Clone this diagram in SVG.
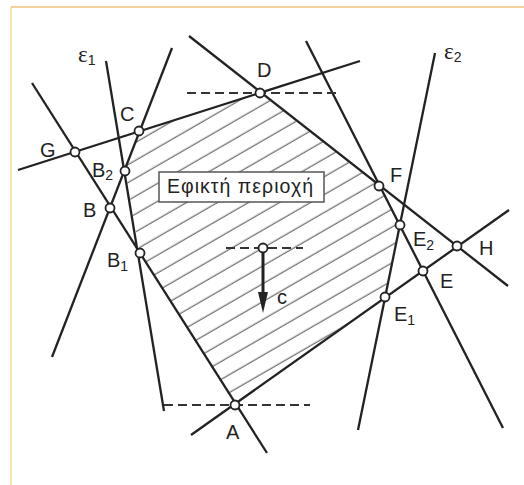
<svg xmlns="http://www.w3.org/2000/svg" width="524" height="485" viewBox="0 0 524 485">
<defs>
<style>
.ln{stroke:#222;stroke-width:2.3;fill:none;stroke-linecap:butt}
.dash{stroke:#333;stroke-width:1.8;fill:none;stroke-dasharray:9 5}
.pt{fill:#fff;stroke:#222;stroke-width:1.8}
.lb{font-family:"Liberation Sans",Arial,sans-serif;font-size:20px;fill:#222}
.sub{font-size:14px}
.eps{font-family:"Liberation Serif","Times New Roman",serif;font-size:23px;fill:#222}
</style>
<pattern id="hatch" patternUnits="userSpaceOnUse" width="60" height="15.5" patternTransform="rotate(-30)">
<line x1="0" y1="5" x2="60" y2="5" stroke="#444" stroke-width="1"/>
</pattern>
</defs>
<rect x="0" y="0" width="524" height="485" fill="#fff"/>
<line x1="11" y1="7" x2="524" y2="7" stroke="#f0c080" stroke-width="1.5"/>
<line x1="11" y1="7" x2="11" y2="485" stroke="#f3dc9a" stroke-width="1.5"/>

<g id="region">
<polygon points="139,131 260,93 379,186 400,225 385,297 235,405 140,253 125,171" fill="url(#hatch)"/>
</g>

<g id="connectors">
<line class="ln" x1="18" y1="170" x2="360" y2="61"/>
<line class="ln" x1="189" y1="36" x2="508" y2="286"/>
<line class="ln" x1="306" y1="41" x2="503" y2="428"/>
<line class="ln" x1="435" y1="53" x2="358" y2="430"/>
<line class="ln" x1="191" y1="435" x2="509" y2="210"/>
<line class="ln" x1="32" y1="83" x2="267" y2="453"/>
<line class="ln" x1="106" y1="61" x2="164" y2="411"/>
<line class="ln" x1="172" y1="48" x2="52" y2="357"/>
<line class="dash" x1="187" y1="93" x2="337" y2="93"/>
<line class="dash" x1="164" y1="405" x2="310" y2="405"/>
<line class="dash" x1="226" y1="248" x2="303" y2="248"/>
<line x1="263" y1="248" x2="263" y2="294" stroke="#222" stroke-width="3"/>
<polygon points="258,292 268,292 263,313" fill="#222"/>
</g>

<g id="label-box">
<rect x="159" y="172" width="165" height="30" fill="#fff" stroke="#555" stroke-width="1.5"/>
<text class="lb" x="167" y="193" textLength="146" lengthAdjust="spacing" style="font-size:19.5px">Εφικτή περιοχή</text>
</g>

<g id="eps1"><text x="78" y="62" class="eps">ε<tspan class="lb sub" dy="3">1</tspan></text></g>
<g id="eps2"><text x="444" y="59" class="eps">ε<tspan class="lb sub" dy="3">2</tspan></text></g>

<g id="node-D"><circle class="pt" cx="260" cy="93" r="4.5"/><text class="lb" x="257" y="77">D</text></g>
<g id="node-C"><circle class="pt" cx="139" cy="131" r="4.5"/><text class="lb" x="120" y="121">C</text></g>
<g id="node-G"><circle class="pt" cx="75" cy="152" r="4.5"/><text class="lb" x="40" y="157">G</text></g>
<g id="node-B2"><circle class="pt" cx="125" cy="171" r="4.5"/><text class="lb" x="92" y="177">B<tspan class="sub" dy="3">2</tspan></text></g>
<g id="node-B"><circle class="pt" cx="110" cy="208" r="4.5"/><text class="lb" x="83" y="217">B</text></g>
<g id="node-B1"><circle class="pt" cx="140" cy="253" r="4.5"/><text class="lb" x="107" y="267">B<tspan class="sub" dy="4">1</tspan></text></g>
<g id="node-A"><circle class="pt" cx="235" cy="405" r="4.5"/><text class="lb" x="226" y="439">A</text></g>
<g id="node-F"><circle class="pt" cx="379" cy="186" r="4.5"/><text class="lb" x="390" y="182">F</text></g>
<g id="node-E2"><circle class="pt" cx="400" cy="225" r="4.5"/><text class="lb" x="413" y="246">E<tspan class="sub" dy="4">2</tspan></text></g>
<g id="node-H"><circle class="pt" cx="457" cy="246" r="4.5"/><text class="lb" x="479" y="255">H</text></g>
<g id="node-E"><circle class="pt" cx="423" cy="271" r="4.5"/><text class="lb" x="440" y="288">E</text></g>
<g id="node-E1"><circle class="pt" cx="385" cy="297" r="4.5"/><text class="lb" x="394" y="321">E<tspan class="sub" dy="4">1</tspan></text></g>
<g id="node-c"><circle class="pt" cx="263" cy="248" r="4.5"/><text class="lb" x="277" y="304">c</text></g>
</svg>
